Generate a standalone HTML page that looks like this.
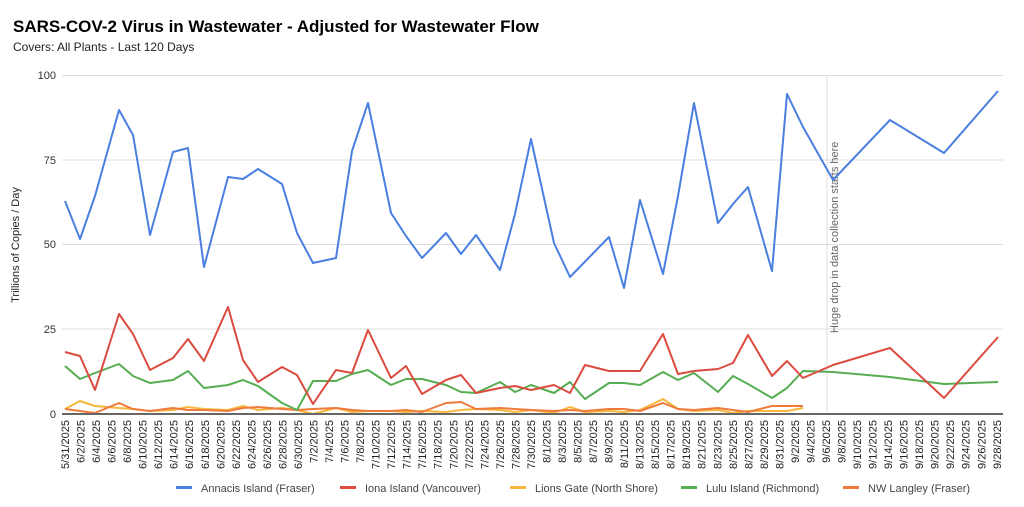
<!DOCTYPE html>
<html><head><meta charset="utf-8"><style>
body{margin:0;background:#fff;font-family:"Liberation Sans",Arial,sans-serif}
</style></head><body>
<svg width="1024" height="502" xmlns="http://www.w3.org/2000/svg" font-family="Liberation Sans, Arial, sans-serif">
<text x="13" y="32" font-size="17" font-weight="bold" fill="#000">SARS-COV-2 Virus in Wastewater - Adjusted for Wastewater Flow</text>
<text x="13" y="51" font-size="12" fill="#222">Covers: All Plants - Last 120 Days</text>
<g stroke="#ddd" stroke-width="1">
<line x1="62" y1="75.5" x2="1003" y2="75.5"/><line x1="62" y1="160" x2="1003" y2="160"/>
<line x1="62" y1="244.5" x2="1003" y2="244.5"/><line x1="62" y1="329" x2="1003" y2="329"/>
<line x1="827" y1="75" x2="827" y2="414"/>
</g>
<g font-size="11" fill="#333" text-anchor="end">
<text x="56" y="79">100</text><text x="56" y="164">75</text><text x="56" y="248">50</text><text x="56" y="333">25</text><text x="56" y="418">0</text>
</g>
<text transform="translate(19,245) rotate(-90)" font-size="11" text-anchor="middle" fill="#222">Trillions of Copies / Day</text>
<text transform="translate(838,333) rotate(-90)" font-size="11" fill="#666">Huge drop in data collection starts here</text>
<g fill="none" stroke-width="2" stroke-linejoin="round">
<polyline stroke="#f6b73c" points="65,409 80,401 95,406 119,408 133,409 150,411 173,410 188,407 204,409 228,410 243,406 258,410 282,408 297,410 313,414 336,408 352,412 368,411 391,411 406,412 422,411 446,412 461,410 476,409 500,410 515,412 531,410 554,413 570,407 585,412 609,411 624,412 640,410 663,399 678,409 694,411 718,410 733,413 748,411 772,411 787,411 803,408"/>
<polyline stroke="#ee7a3c" points="65,409 80,411 95,413 119,403 133,409 150,411 173,408 188,410 204,410 228,411 243,408 258,407 282,409 297,410 313,409 336,408 352,410 368,411 391,411 406,410 422,412 446,403 461,402 476,409 500,408 515,409 531,410 554,411 570,410 585,411 609,409 624,409 640,411 663,403 678,409 694,410 718,408 733,410 748,412 772,406 787,406 803,406"/>
<polyline stroke="#57ad52" points="65,366 80,379 95,373 119,364 133,376 150,383 173,380 188,371 204,388 228,385 243,380 258,386 282,403 297,410 313,381 336,381 352,374 368,370 391,385 406,379 422,379 446,385 461,392 476,393 500,382 515,392 531,385 554,393 570,382 585,399 609,383 624,383 640,385 663,372 678,380 694,373 718,392 733,376 748,384 772,398 787,388 803,371 833,372 890,377 944,384 998,382"/>
<polyline stroke="#db4b3f" points="65,352 80,356 95,390 119,314 133,334 150,370 173,358 188,339 204,361 228,307 243,360 258,382 282,367 297,375 313,404 336,370 352,373 368,330 391,378 406,366 422,394 446,380 461,375 476,393 500,388 515,386 531,390 554,385 570,393 585,365 609,371 624,371 640,371 663,334 678,374 694,371 718,369 733,363 748,335 772,376 787,361 803,378 833,365 890,348 944,398 998,337"/>
<polyline stroke="#4a7fe0" points="65,201 80,239 95,196 119,110 133,135 150,235 173,152 188,148 204,267 228,177 243,179 258,169 282,184 297,233 313,263 336,258 352,151 368,103 391,213 406,236 422,258 446,233 461,254 476,235 500,270 515,214 531,139 554,243 570,277 609,237 624,288 640,200 663,274 678,196 694,103 718,223 733,204 748,187 772,271 787,94 803,127 833,180 890,120 944,153 998,91"/>
</g>
<line x1="62" y1="414" x2="1003" y2="414" stroke="#666" stroke-width="2"/>
<g font-size="11" fill="#222" text-anchor="end" id="ticks"></g>
<g font-size="11" fill="#444">
<rect x="176" y="486" width="16" height="3" fill="#4a7fe0"/><text x="201" y="492">Annacis Island (Fraser)</text>
<rect x="340" y="486" width="16" height="3" fill="#db4b3f"/><text x="365" y="492">Iona Island (Vancouver)</text>
<rect x="510" y="486" width="16" height="3" fill="#f6b73c"/><text x="535" y="492">Lions Gate (North Shore)</text>
<rect x="681" y="486" width="16" height="3" fill="#57ad52"/><text x="706" y="492">Lulu Island (Richmond)</text>
<rect x="843" y="486" width="16" height="3" fill="#ee7a3c"/><text x="868" y="492">NW Langley (Fraser)</text>
</g>
</svg>
<script>
var g=document.getElementById('ticks'),d=new Date(2025,4,31),s='';
for(var i=0;i<61;i++){var x=65+i*15.53+4;var t=(d.getMonth()+1)+'/'+d.getDate()+'/2025';
s+='<text transform="translate('+x.toFixed(1)+',420) rotate(-90)">'+t+'</text>';d.setDate(d.getDate()+2);}
g.innerHTML=s;
</script>
</body></html>
